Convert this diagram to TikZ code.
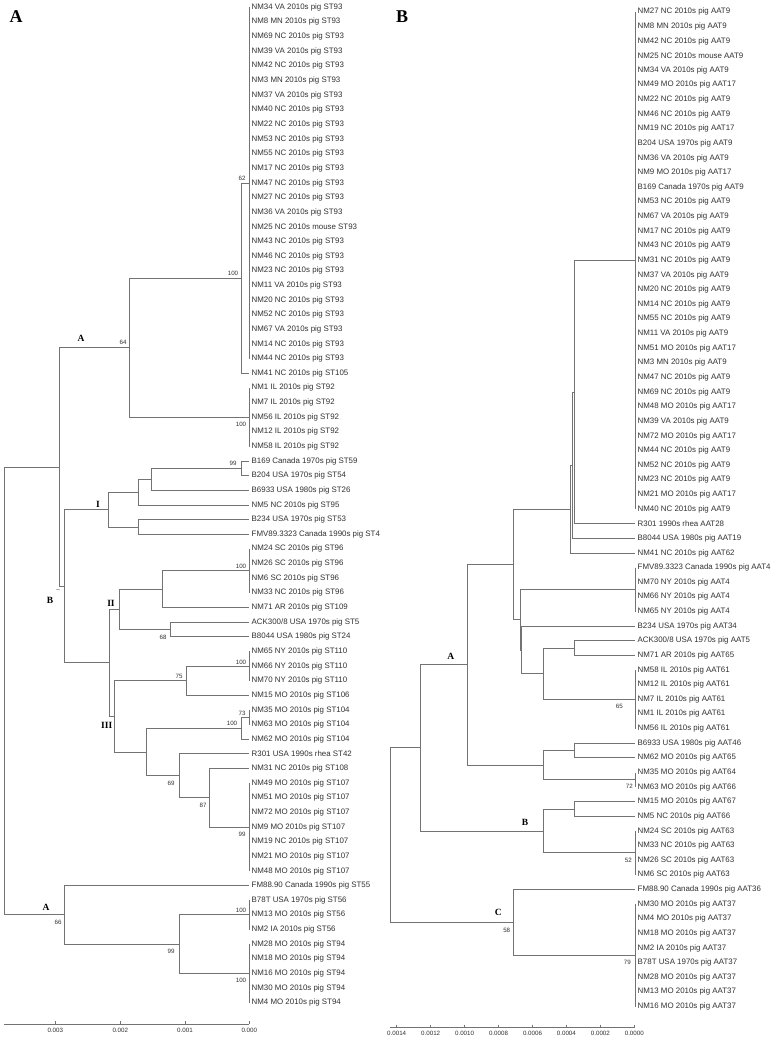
\documentclass[tikz,border=0pt]{standalone}
\usepackage{fontspec}
\setmainfont{Liberation Sans}
\newfontfamily\cladefont{Liberation Serif}
\usetikzlibrary{positioning}
\definecolor{branchgray}{RGB}{115,115,115}
\definecolor{labelgray}{RGB}{50,50,50}

\begin{document}
\begin{tikzpicture}[x=1pt,y=-1pt,
    branch/.style={draw=branchgray,line width=1pt},
    leaf/.style={anchor=west,inner xsep=2.5pt,inner ysep=0pt,text=labelgray,font=\fontsize{7.9}{9}\selectfont},
    boot/.style={inner sep=0pt,text=labelgray,font=\fontsize{6.2}{7}\selectfont},
    clade/.style={inner sep=0pt,font=\cladefont\bfseries\fontsize{9.5}{11}\selectfont},
    panel/.style={inner sep=0pt,font=\cladefont\bfseries\fontsize{18}{20}\selectfont},
    scalelabel/.style={inner sep=0pt,text=labelgray,font=\fontsize{6.2}{7}\selectfont}]
    \useasboundingbox[fill=white] (0,0) rectangle (774,1041);

    \node[panel] (pA) at (16,16.7)  {A};
    \node[panel] (pB) at (402,16.7) {B};

    % tree A, leaves
    \node[leaf] (a1)  at (249,7.3)   {NM34 VA 2010s pig ST93};
    \node[leaf] (a2)  at (249,21.9)  {NM8 MN 2010s pig ST93};
    \node[leaf] (a3)  at (249,36.6)  {NM69 NC 2010s pig ST93};
    \node[leaf] (a4)  at (249,51.2)  {NM39 VA 2010s pig ST93};
    \node[leaf] (a5)  at (249,65.9)  {NM42 NC 2010s pig ST93};
    \node[leaf] (a6)  at (249,80.5)  {NM3 MN 2010s pig ST93};
    \node[leaf] (a7)  at (249,95.1)  {NM37 VA 2010s pig ST93};
    \node[leaf] (a8)  at (249,109.8) {NM40 NC 2010s pig ST93};
    \node[leaf] (a9)  at (249,124.4) {NM22 NC 2010s pig ST93};
    \node[leaf] (a10) at (249,139.1) {NM53 NC 2010s pig ST93};
    \node[leaf] (a11) at (249,153.7) {NM55 NC 2010s pig ST93};
    \node[leaf] (a12) at (249,168.3) {NM17 NC 2010s pig ST93};
    \node[leaf] (a13) at (249,183.0) {NM47 NC 2010s pig ST93};
    \node[leaf] (a14) at (249,197.6) {NM27 NC 2010s pig ST93};
    \node[leaf] (a15) at (249,212.3) {NM36 VA 2010s pig ST93};
    \node[leaf] (a16) at (249,226.9) {NM25 NC 2010s mouse ST93};
    \node[leaf] (a17) at (249,241.5) {NM43 NC 2010s pig ST93};
    \node[leaf] (a18) at (249,256.2) {NM46 NC 2010s pig ST93};
    \node[leaf] (a19) at (249,270.8) {NM23 NC 2010s pig ST93};
    \node[leaf] (a20) at (249,285.5) {NM11 VA 2010s pig ST93};
    \node[leaf] (a21) at (249,300.1) {NM20 NC 2010s pig ST93};
    \node[leaf] (a22) at (249,314.7) {NM52 NC 2010s pig ST93};
    \node[leaf] (a23) at (249,329.4) {NM67 VA 2010s pig ST93};
    \node[leaf] (a24) at (249,344.0) {NM14 NC 2010s pig ST93};
    \node[leaf] (a25) at (249,358.7) {NM44 NC 2010s pig ST93};
    \node[leaf] (a26) at (249,373.3) {NM41 NC 2010s pig ST105};
    \node[leaf] (a27) at (249,387.9) {NM1 IL 2010s pig ST92};
    \node[leaf] (a28) at (249,402.6) {NM7 IL 2010s pig ST92};
    \node[leaf] (a29) at (249,417.2) {NM56 IL 2010s pig ST92};
    \node[leaf] (a30) at (249,431.9) {NM12 IL 2010s pig ST92};
    \node[leaf] (a31) at (249,446.5) {NM58 IL 2010s pig ST92};
    \node[leaf] (a32) at (249,461.1) {B169 Canada 1970s pig ST59};
    \node[leaf] (a33) at (249,475.7) {B204 USA 1970s pig ST54};
    \node[leaf] (a34) at (249,490.4) {B6933 USA 1980s pig ST26};
    \node[leaf] (a35) at (249,505.0) {NM5 NC 2010s pig ST95};
    \node[leaf] (a36) at (249,519.6) {B234 USA 1970s pig ST53};
    \node[leaf] (a37) at (249,534.3) {FMV89.3323 Canada 1990s pig ST4};
    \node[leaf] (a38) at (249,548.9) {NM24 SC 2010s pig ST96};
    \node[leaf] (a39) at (249,563.6) {NM26 SC 2010s pig ST96};
    \node[leaf] (a40) at (249,578.2) {NM6 SC 2010s pig ST96};
    \node[leaf] (a41) at (249,592.8) {NM33 NC 2010s pig ST96};
    \node[leaf] (a42) at (249,607.5) {NM71 AR 2010s pig ST109};
    \node[leaf] (a43) at (249,622.1) {ACK300/8 USA 1970s pig ST5};
    \node[leaf] (a44) at (249,636.8) {B8044 USA 1980s pig ST24};
    \node[leaf] (a45) at (249,651.4) {NM65 NY 2010s pig ST110};
    \node[leaf] (a46) at (249,666.0) {NM66 NY 2010s pig ST110};
    \node[leaf] (a47) at (249,680.7) {NM70 NY 2010s pig ST110};
    \node[leaf] (a48) at (249,695.3) {NM15 MO 2010s pig ST106};
    \node[leaf] (a49) at (249,710.0) {NM35 MO 2010s pig ST104};
    \node[leaf] (a50) at (249,724.6) {NM63 MO 2010s pig ST104};
    \node[leaf] (a51) at (249,739.2) {NM62 MO 2010s pig ST104};
    \node[leaf] (a52) at (249,753.9) {R301 USA 1990s rhea ST42};
    \node[leaf] (a53) at (249,768.5) {NM31 NC 2010s pig ST108};
    \node[leaf] (a54) at (249,783.2) {NM49 MO 2010s pig ST107};
    \node[leaf] (a55) at (249,797.8) {NM51 MO 2010s pig ST107};
    \node[leaf] (a56) at (249,812.4) {NM72 MO 2010s pig ST107};
    \node[leaf] (a57) at (249,827.1) {NM9 MO 2010s pig ST107};
    \node[leaf] (a58) at (249,841.7) {NM19 NC 2010s pig ST107};
    \node[leaf] (a59) at (249,856.4) {NM21 MO 2010s pig ST107};
    \node[leaf] (a60) at (249,871.0) {NM48 MO 2010s pig ST107};
    \node[leaf] (a61) at (249,885.6) {FM88.90 Canada 1990s pig ST55};
    \node[leaf] (a62) at (249,900.3) {B78T USA 1970s pig ST56};
    \node[leaf] (a63) at (249,914.9) {NM13 MO 2010s pig ST56};
    \node[leaf] (a64) at (249,929.6) {NM2 IA 2010s pig ST56};
    \node[leaf] (a65) at (249,944.2) {NM28 MO 2010s pig ST94};
    \node[leaf] (a66) at (249,958.8) {NM18 MO 2010s pig ST94};
    \node[leaf] (a67) at (249,973.5) {NM16 MO 2010s pig ST94};
    \node[leaf] (a68) at (249,988.1) {NM30 MO 2010s pig ST94};
    \node[leaf] (a69) at (249,1002.8) {NM4 MO 2010s pig ST94};

    % tree A, inner nodes
    \coordinate (aST93)  at (249,183.0);
    \coordinate (aN100)  at (241,278.2);
    \coordinate (aST92)  at (249,417.2);
    \coordinate (aN64)   at (129,347.7);
    \coordinate (aN99)   at (241,468.4);
    \coordinate (aN26)   at (151,479.4);
    \coordinate (aN95)   at (138,492.2);
    \coordinate (aN53)   at (138,527.0);
    \coordinate (aI)     at (108,509.6);
    \coordinate (aST96)  at (249,570.9);
    \coordinate (aN109)  at (162,589.2);
    \coordinate (aN68)   at (170,629.4);
    \coordinate (aII)    at (119,609.3);
    \coordinate (aST110) at (249,666.0);
    \coordinate (aN75)   at (186,680.7);
    \coordinate (aN73)   at (249,717.3);
    \coordinate (aST104) at (241,728.3);
    \coordinate (aST107) at (249,827.1);
    \coordinate (aN87)   at (209,797.8);
    \coordinate (aN69)   at (179,775.9);
    \coordinate (aN42)   at (146,752.1);
    \coordinate (aIII)   at (114,716.4);
    \coordinate (aN23)   at (109,662.9);
    \coordinate (aB)     at (64,586.3);
    \coordinate (aAB)    at (59,467.0);
    \coordinate (aST56)  at (249,914.9);
    \coordinate (aST94)  at (249,973.5);
    \coordinate (aN99b)  at (179,944.2);
    \coordinate (aN66)   at (64,914.9);
    \coordinate (aroot)  at (4,691.0);

    \draw[branch] (a1.west) -- (a25.west);
    \draw[branch] (a27.west) -- (a31.west);
    \draw[branch] (a38.west) -- (a41.west);
    \draw[branch] (a45.west) -- (a47.west);
    \draw[branch] (a49.west) -- (a50.west);
    \draw[branch] (a54.west) -- (a60.west);
    \draw[branch] (a62.west) -- (a64.west);
    \draw[branch] (a65.west) -- (a69.west);

    \draw[branch] (aroot) |- (aAB);
    \draw[branch] (aroot) |- (aN66);
    \draw[branch] (aAB) |- (aN64);
    \draw[branch] (aAB) |- (aB);
    \draw[branch] (aN64) |- (aN100);
    \draw[branch] (aN64) |- (aST92);
    \draw[branch] (aN100) |- (aST93);
    \draw[branch] (aN100) |- (a26.west);
    \draw[branch] (aB) |- (aI);
    \draw[branch] (aB) |- (aN23);
    \draw[branch] (aI) |- (aN95);
    \draw[branch] (aI) |- (aN53);
    \draw[branch] (aN95) |- (aN26);
    \draw[branch] (aN95) |- (a35.west);
    \draw[branch] (aN26) |- (aN99);
    \draw[branch] (aN26) |- (a34.west);
    \draw[branch] (aN99) |- (a32.west);
    \draw[branch] (aN99) |- (a33.west);
    \draw[branch] (aN53) |- (a36.west);
    \draw[branch] (aN53) |- (a37.west);
    \draw[branch] (aN23) |- (aII);
    \draw[branch] (aN23) |- (aIII);
    \draw[branch] (aII) |- (aN109);
    \draw[branch] (aII) |- (aN68);
    \draw[branch] (aN109) |- (aST96);
    \draw[branch] (aN109) |- (a42.west);
    \draw[branch] (aN68) |- (a43.west);
    \draw[branch] (aN68) |- (a44.west);
    \draw[branch] (aIII) |- (aN75);
    \draw[branch] (aIII) |- (aN42);
    \draw[branch] (aN75) |- (aST110);
    \draw[branch] (aN75) |- (a48.west);
    \draw[branch] (aN42) |- (aST104);
    \draw[branch] (aN42) |- (aN69);
    \draw[branch] (aST104) |- (aN73);
    \draw[branch] (aST104) |- (a51.west);
    \draw[branch] (aN69) |- (a52.west);
    \draw[branch] (aN69) |- (aN87);
    \draw[branch] (aN87) |- (a53.west);
    \draw[branch] (aN87) |- (aST107);
    \draw[branch] (aN66) |- (a61.west);
    \draw[branch] (aN66) |- (aN99b);
    \draw[branch] (aN99b) |- (aST56);
    \draw[branch] (aN99b) |- (aST94);

    % tree A, support values and clades
    \node[boot] (bsa1)  at (242,178)   {62};
    \node[boot] (bsa2)  at (233,273)   {100};
    \node[boot] (bsa3)  at (123,342)   {64};
    \node[boot] (bsa4)  at (241,424)   {100};
    \node[boot] (bsa5)  at (233,463)   {99};
    \node[boot] (bsa6)  at (241,566)   {100};
    \node[boot] (bsa7)  at (163,637)   {68};
    \node[boot] (bsa8)  at (241,662)   {100};
    \node[boot] (bsa9)  at (179,676)   {75};
    \node[boot] (bsa10) at (242,713)   {73};
    \node[boot] (bsa11) at (232,723)   {100};
    \node[boot] (bsa12) at (171,783)   {69};
    \node[boot] (bsa13) at (203,805)   {87};
    \node[boot] (bsa14) at (242,834)   {99};
    \node[boot] (bsa15) at (241,910)   {100};
    \node[boot] (bsa16) at (58,922)    {66};
    \node[boot] (bsa17) at (171,951.7) {99};
    \node[boot] (bsa18) at (241,980)   {100};
    \node[boot] (bsa19) at (58,591)    {--};

    \node[clade] (cA1)   at (81,338)    {A};
    \node[clade] (cI)    at (98,504.3)  {I};
    \node[clade] (cB)    at (50,600.7)  {B};
    \node[clade] (cII)   at (111,603.3) {II};
    \node[clade] (cIII)  at (106.7,725.7) {III};
    \node[clade] (cA2)   at (46,907)    {A};

    % tree A, scale
    \draw[branch] (4,1024) -- (249.3,1024);
    \draw[branch] (55.3,1021) -- (55.3,1024);
    \draw[branch] (120.3,1021) -- (120.3,1024);
    \draw[branch] (185,1021) -- (185,1024);
    \draw[branch] (249.3,1021) -- (249.3,1024);
    \node[scalelabel] (sa3) at (55.3,1030.3)  {0.003};
    \node[scalelabel] (sa2) at (120.3,1030.3) {0.002};
    \node[scalelabel] (sa1) at (185,1030.3)   {0.001};
    \node[scalelabel] (sa0) at (249.3,1030.3) {0.000};

    % tree B, leaves
    \node[leaf] (b1)  at (635,11.7)  {NM27 NC 2010s pig AAT9};
    \node[leaf] (b2)  at (635,26.3)  {NM8 MN 2010s pig AAT9};
    \node[leaf] (b3)  at (635,41.0)  {NM42 NC 2010s pig AAT9};
    \node[leaf] (b4)  at (635,55.6)  {NM25 NC 2010s mouse AAT9};
    \node[leaf] (b5)  at (635,70.2)  {NM34 VA 2010s pig AAT9};
    \node[leaf] (b6)  at (635,84.9)  {NM49 MO 2010s pig AAT17};
    \node[leaf] (b7)  at (635,99.5)  {NM22 NC 2010s pig AAT9};
    \node[leaf] (b8)  at (635,114.1) {NM46 NC 2010s pig AAT9};
    \node[leaf] (b9)  at (635,128.7) {NM19 NC 2010s pig AAT17};
    \node[leaf] (b10) at (635,143.4) {B204 USA 1970s pig AAT9};
    \node[leaf] (b11) at (635,158.0) {NM36 VA 2010s pig AAT9};
    \node[leaf] (b12) at (635,172.6) {NM9 MO 2010s pig AAT17};
    \node[leaf] (b13) at (635,187.3) {B169 Canada 1970s pig AAT9};
    \node[leaf] (b14) at (635,201.9) {NM53 NC 2010s pig AAT9};
    \node[leaf] (b15) at (635,216.5) {NM67 VA 2010s pig AAT9};
    \node[leaf] (b16) at (635,231.2) {NM17 NC 2010s pig AAT9};
    \node[leaf] (b17) at (635,245.8) {NM43 NC 2010s pig AAT9};
    \node[leaf] (b18) at (635,260.4) {NM31 NC 2010s pig AAT9};
    \node[leaf] (b19) at (635,275.0) {NM37 VA 2010s pig AAT9};
    \node[leaf] (b20) at (635,289.7) {NM20 NC 2010s pig AAT9};
    \node[leaf] (b21) at (635,304.3) {NM14 NC 2010s pig AAT9};
    \node[leaf] (b22) at (635,318.9) {NM55 NC 2010s pig AAT9};
    \node[leaf] (b23) at (635,333.6) {NM11 VA 2010s pig AAT9};
    \node[leaf] (b24) at (635,348.2) {NM51 MO 2010s pig AAT17};
    \node[leaf] (b25) at (635,362.8) {NM3 MN 2010s pig AAT9};
    \node[leaf] (b26) at (635,377.5) {NM47 NC 2010s pig AAT9};
    \node[leaf] (b27) at (635,392.1) {NM69 NC 2010s pig AAT9};
    \node[leaf] (b28) at (635,406.7) {NM48 MO 2010s pig AAT17};
    \node[leaf] (b29) at (635,421.3) {NM39 VA 2010s pig AAT9};
    \node[leaf] (b30) at (635,436.0) {NM72 MO 2010s pig AAT17};
    \node[leaf] (b31) at (635,450.6) {NM44 NC 2010s pig AAT9};
    \node[leaf] (b32) at (635,465.2) {NM52 NC 2010s pig AAT9};
    \node[leaf] (b33) at (635,479.9) {NM23 NC 2010s pig AAT9};
    \node[leaf] (b34) at (635,494.5) {NM21 MO 2010s pig AAT17};
    \node[leaf] (b35) at (635,509.1) {NM40 NC 2010s pig AAT9};
    \node[leaf] (b36) at (635,523.8) {R301 1990s rhea AAT28};
    \node[leaf] (b37) at (635,538.4) {B8044 USA 1980s pig AAT19};
    \node[leaf] (b38) at (635,553.0) {NM41 NC 2010s pig AAT62};
    \node[leaf] (b39) at (635,567.6) {FMV89.3323 Canada 1990s pig AAT4};
    \node[leaf] (b40) at (635,582.3) {NM70 NY 2010s pig AAT4};
    \node[leaf] (b41) at (635,596.9) {NM66 NY 2010s pig AAT4};
    \node[leaf] (b42) at (635,611.5) {NM65 NY 2010s pig AAT4};
    \node[leaf] (b43) at (635,626.2) {B234 USA 1970s pig AAT34};
    \node[leaf] (b44) at (635,640.8) {ACK300/8 USA 1970s pig AAT5};
    \node[leaf] (b45) at (635,655.4) {NM71 AR 2010s pig AAT65};
    \node[leaf] (b46) at (635,670.0) {NM58 IL 2010s pig AAT61};
    \node[leaf] (b47) at (635,684.7) {NM12 IL 2010s pig AAT61};
    \node[leaf] (b48) at (635,699.3) {NM7 IL 2010s pig AAT61};
    \node[leaf] (b49) at (635,713.9) {NM1 IL 2010s pig AAT61};
    \node[leaf] (b50) at (635,728.6) {NM56 IL 2010s pig AAT61};
    \node[leaf] (b51) at (635,743.2) {B6933 USA 1980s pig AAT46};
    \node[leaf] (b52) at (635,757.8) {NM62 MO 2010s pig AAT65};
    \node[leaf] (b53) at (635,772.5) {NM35 MO 2010s pig AAT64};
    \node[leaf] (b54) at (635,787.1) {NM63 MO 2010s pig AAT66};
    \node[leaf] (b55) at (635,801.7) {NM15 MO 2010s pig AAT67};
    \node[leaf] (b56) at (635,816.3) {NM5 NC 2010s pig AAT66};
    \node[leaf] (b57) at (635,831.0) {NM24 SC 2010s pig AAT63};
    \node[leaf] (b58) at (635,845.6) {NM33 NC 2010s pig AAT63};
    \node[leaf] (b59) at (635,860.2) {NM26 SC 2010s pig AAT63};
    \node[leaf] (b60) at (635,874.9) {NM6 SC 2010s pig AAT63};
    \node[leaf] (b61) at (635,889.5) {FM88.90 Canada 1990s pig AAT36};
    \node[leaf] (b62) at (635,904.1) {NM30 MO 2010s pig AAT37};
    \node[leaf] (b63) at (635,918.8) {NM4 MO 2010s pig AAT37};
    \node[leaf] (b64) at (635,933.4) {NM18 MO 2010s pig AAT37};
    \node[leaf] (b65) at (635,948.0) {NM2 IA 2010s pig AAT37};
    \node[leaf] (b66) at (635,962.6) {B78T USA 1970s pig AAT37};
    \node[leaf] (b67) at (635,977.3) {NM28 MO 2010s pig AAT37};
    \node[leaf] (b68) at (635,991.9) {NM13 MO 2010s pig AAT37};
    \node[leaf] (b69) at (635,1006.5) {NM16 MO 2010s pig AAT37};

    % tree B, inner nodes
    \coordinate (bAAT9)  at (635,260.4);
    \coordinate (bN28)   at (574.3,392.1);
    \coordinate (bN19)   at (572.7,465.3);
    \coordinate (bN62)   at (570.7,509.1);
    \coordinate (bAAT4)  at (635,589.6);
    \coordinate (bN5)    at (574.3,648.1);
    \coordinate (bAAT61) at (635,699.3);
    \coordinate (bN65)   at (543.3,673.7);
    \coordinate (bN34)   at (521.7,650.0);
    \coordinate (bN4)    at (520.3,619.8);
    \coordinate (bN9)    at (513.3,564.5);
    \coordinate (bN46)   at (574.3,750.5);
    \coordinate (bN72)   at (635,779.8);
    \coordinate (bN64)   at (543.3,765.2);
    \coordinate (bA)     at (467.7,664.8);
    \coordinate (bN67)   at (574.3,809.0);
    \coordinate (bAAT63) at (635,852.9);
    \coordinate (bB)     at (543.3,831.0);
    \coordinate (bAB)    at (420.7,747.9);
    \coordinate (bAAT37) at (635,955.3);
    \coordinate (bC)     at (513.3,922.4);
    \coordinate (broot)  at (390,835.2);

    \draw[branch] (b1.west) -- (b35.west);
    \draw[branch] (b39.west) -- (b42.west);
    \draw[branch] (b46.west) -- (b50.west);
    \draw[branch] (b53.west) -- (b54.west);
    \draw[branch] (b57.west) -- (b60.west);
    \draw[branch] (b62.west) -- (b69.west);

    \draw[branch] (broot) |- (bAB);
    \draw[branch] (broot) |- (bC);
    \draw[branch] (bAB) |- (bA);
    \draw[branch] (bAB) |- (bB);
    \draw[branch] (bA) |- (bN9);
    \draw[branch] (bA) |- (bN64);
    \draw[branch] (bN9) |- (bN62);
    \draw[branch] (bN9) |- (bN4);
    \draw[branch] (bN62) |- (bN19);
    \draw[branch] (bN62) |- (b38.west);
    \draw[branch] (bN19) |- (bN28);
    \draw[branch] (bN19) |- (b37.west);
    \draw[branch] (bN28) |- (bAAT9);
    \draw[branch] (bN28) |- (b36.west);
    \draw[branch] (bN4) |- (bAAT4);
    \draw[branch] (bN4) |- (bN34);
    \draw[branch] (bN34) |- (b43.west);
    \draw[branch] (bN34) |- (bN65);
    \draw[branch] (bN65) |- (bN5);
    \draw[branch] (bN65) |- (bAAT61);
    \draw[branch] (bN5) |- (b44.west);
    \draw[branch] (bN5) |- (b45.west);
    \draw[branch] (bN64) |- (bN46);
    \draw[branch] (bN64) |- (bN72);
    \draw[branch] (bN46) |- (b51.west);
    \draw[branch] (bN46) |- (b52.west);
    \draw[branch] (bB) |- (bN67);
    \draw[branch] (bB) |- (bAAT63);
    \draw[branch] (bN67) |- (b55.west);
    \draw[branch] (bN67) |- (b56.west);
    \draw[branch] (bC) |- (b61.west);
    \draw[branch] (bC) |- (bAAT37);

    % tree B, support values and clades
    \node[boot] (bsb1) at (619.3,706)   {65};
    \node[boot] (bsb2) at (629.3,786.7) {72};
    \node[boot] (bsb3) at (628.3,860)   {52};
    \node[boot] (bsb4) at (506.7,930)   {58};
    \node[boot] (bsb5) at (627.3,962.7) {79};

    \node[clade] (cbA) at (450.7,656.7) {A};
    \node[clade] (cbB) at (525,822.7)   {B};
    \node[clade] (cbC) at (498.3,912.7) {C};

    % tree B, scale
    \draw[branch] (390,1027.7) -- (634.3,1027.7);
    \draw[branch] (396.7,1024.7) -- (396.7,1027.7);
    \draw[branch] (430.7,1024.7) -- (430.7,1027.7);
    \draw[branch] (464.6,1024.7) -- (464.6,1027.7);
    \draw[branch] (498.5,1024.7) -- (498.5,1027.7);
    \draw[branch] (532.5,1024.7) -- (532.5,1027.7);
    \draw[branch] (566.4,1024.7) -- (566.4,1027.7);
    \draw[branch] (600.4,1024.7) -- (600.4,1027.7);
    \draw[branch] (634.3,1024.7) -- (634.3,1027.7);
    \node[scalelabel] (sb7) at (396.7,1033) {0.0014};
    \node[scalelabel] (sb6) at (430.7,1033) {0.0012};
    \node[scalelabel] (sb5) at (464.6,1033) {0.0010};
    \node[scalelabel] (sb4) at (498.5,1033) {0.0008};
    \node[scalelabel] (sb3) at (532.5,1033) {0.0006};
    \node[scalelabel] (sb2) at (566.4,1033) {0.0004};
    \node[scalelabel] (sb1) at (600.4,1033) {0.0002};
    \node[scalelabel] (sb0) at (634.3,1033) {0.0000};
\end{tikzpicture}
\end{document}
